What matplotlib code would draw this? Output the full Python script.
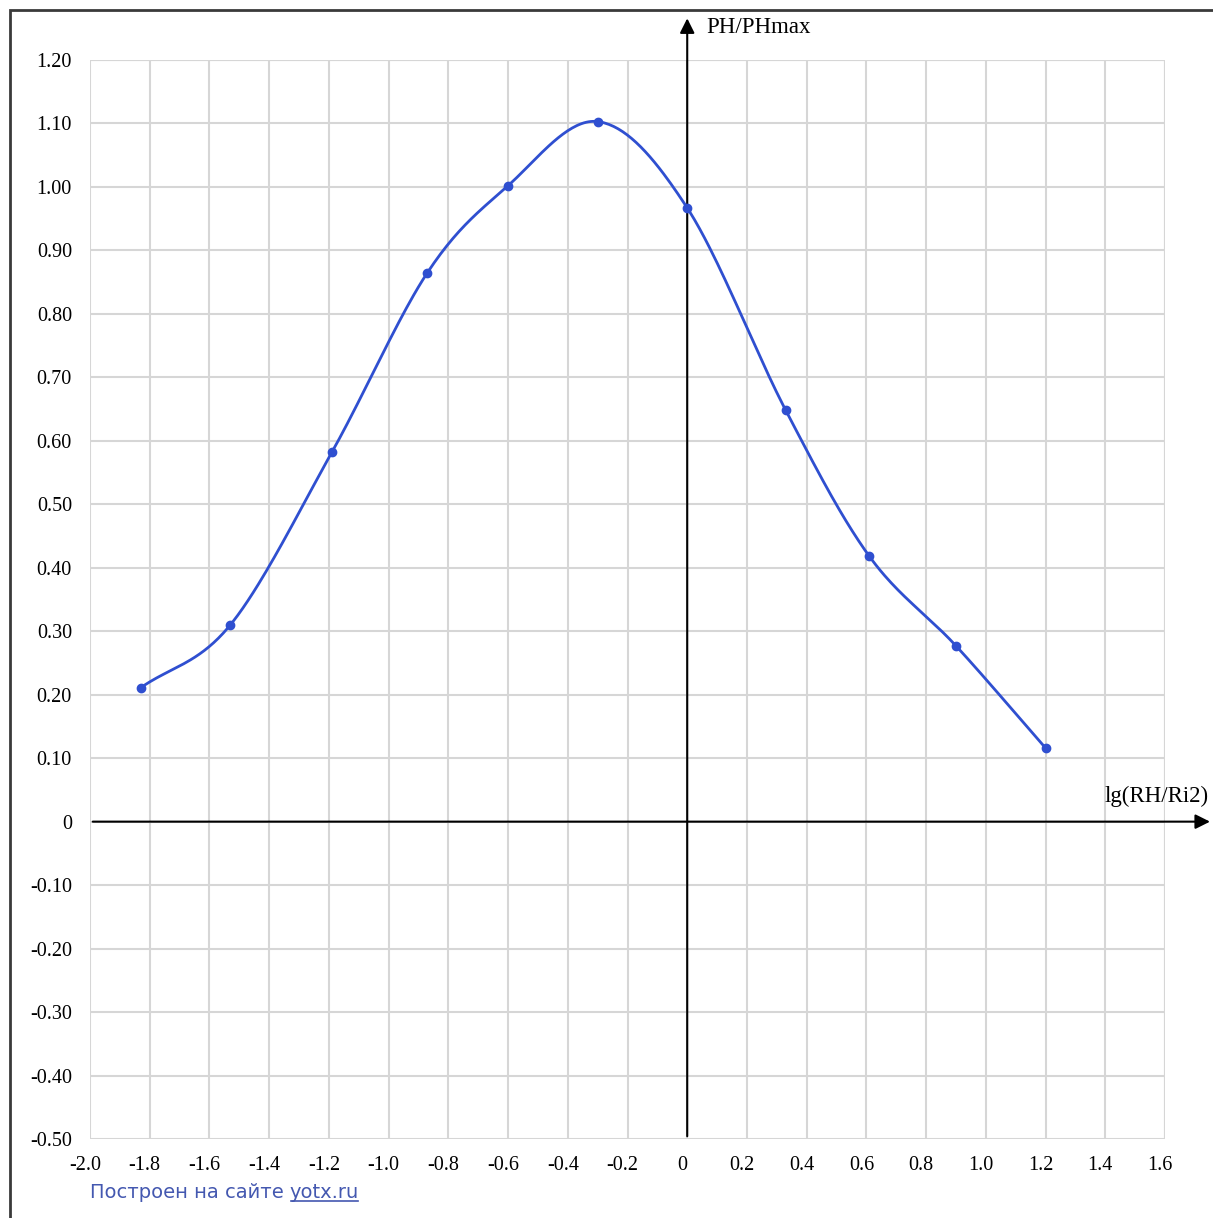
import numpy as np
import matplotlib
matplotlib.use("Agg")
import matplotlib.pyplot as plt
import matplotlib.transforms as mtrans

# values
lg_r = [-1.83, -1.53, -1.19, -0.87, -0.60, -0.30, 0.0, 0.33, 0.61, 0.90, 1.20]
p_ratio = [0.211, 0.310, 0.582, 0.865, 1.002, 1.103, 0.967, 0.648, 0.418, 0.277, 0.116]

x_ticks = [-2.0, -1.8, -1.6, -1.4, -1.2, -1.0, -0.8, -0.6, -0.4, -0.2, 0, 0.2, 0.4, 0.6, 0.8, 1.0, 1.2, 1.4, 1.6]
x_labels = ["-2.0", "-1.8", "-1.6", "-1.4", "-1.2", "-1.0", "-0.8", "-0.6", "-0.4", "-0.2", "0",
            "0.2", "0.4", "0.6", "0.8", "1.0", "1.2", "1.4", "1.6"]
y_ticks = [1.2, 1.1, 1.0, 0.9, 0.8, 0.7, 0.6, 0.5, 0.4, 0.3, 0.2, 0.1, 0, -0.1, -0.2, -0.3, -0.4, -0.5]
y_labels = ["1.20", "1.10", "1.00", "0.90", "0.80", "0.70", "0.60", "0.50", "0.40", "0.30", "0.20",
            "0.10", "0", "-0.10", "-0.20", "-0.30", "-0.40", "-0.50"]

BLUE = "#2f4fd0"
SERIF = "Liberation Serif"
GRID = "#d6d6d6"


def catmull(xs, ys, n=40):
    # smooth line through the points (rendering only, like the site does)
    xs = np.asarray(xs, float)
    ys = np.asarray(ys, float)
    px = np.concatenate([[2 * xs[0] - xs[1]], xs, [2 * xs[-1] - xs[-2]]])
    py = np.concatenate([[2 * ys[0] - ys[1]], ys, [2 * ys[-1] - ys[-2]]])
    t = np.linspace(0, 1, n)
    ox, oy = [], []
    for i in range(1, len(px) - 2):
        for p, o in ((px, ox), (py, oy)):
            p0, p1, p2, p3 = p[i - 1], p[i], p[i + 1], p[i + 2]
            o.extend(0.5 * (2 * p1 + (-p0 + p2) * t + (2 * p0 - 5 * p1 + 4 * p2 - p3) * t ** 2
                            + (-p0 + 3 * p1 - 3 * p2 + p3) * t ** 3))
    return np.array(ox), np.array(oy)


fig = plt.figure(figsize=(12.13, 12.18), dpi=100)
ax = fig.add_axes([90 / 1213, 1 - 1139 / 1218, 1075 / 1213, 1079 / 1218])

# outer frame
fig.patches.append(plt.Rectangle((10 / 1213, -0.01), 1.1, 1 - 10 / 1218 + 0.01,
                                 transform=fig.transFigure, fill=False, ec="#3a3a3a", lw=2))

ax.set_xlim(-2.0, 1.6)
ax.set_ylim(-0.5, 1.2)
ax.set_xticks(x_ticks)
ax.set_yticks(y_ticks)
ax.set_xticklabels(x_labels, family=SERIF, fontsize=14.5)
ax.set_yticklabels(y_labels, family=SERIF, fontsize=14.5)
ax.tick_params(length=0, pad=12)
ax.tick_params(axis="y", pad=13)
shift = mtrans.ScaledTranslation(-5 / 100, 0, fig.dpi_scale_trans)
for lab in ax.get_xticklabels():
    lab.set_transform(lab.get_transform() + shift)
ax.grid(True, color=GRID, lw=1.5)
ax.set_axisbelow(True)
for s in ax.spines.values():
    s.set_visible(False)
# closing grid lines at the edges
ax.axvline(1.6, color=GRID, lw=1.5, zorder=0)
ax.axhline(1.2, color=GRID, lw=1.5, zorder=0)

# axes with arrows
ax.annotate("", xy=(1.76, 0), xytext=(-2.0, 0), annotation_clip=False,
            arrowprops=dict(arrowstyle="-|>", color="black", lw=1.5, mutation_scale=22))
ax.annotate("", xy=(0, 1.27), xytext=(0, -0.5), annotation_clip=False,
            arrowprops=dict(arrowstyle="-|>", color="black", lw=1.5, mutation_scale=22))
ax.text(0.065, 1.251, "PH/PHmax", family=SERIF, fontsize=16.5, va="center", ha="left", clip_on=False)
ax.text(1.745, 0.04, "lg(RH/Ri2)", family=SERIF, fontsize=16.5, va="center", ha="right", clip_on=False)

sx, sy = catmull(lg_r, p_ratio)
ax.plot(sx, sy, color=BLUE, lw=2, zorder=3, solid_capstyle="round")
ax.plot(lg_r, p_ratio, "o", color=BLUE, ms=6, zorder=4)

# footer
t1 = fig.text(90 / 1213, 1 - 1192 / 1218, "Построен на сайте", family="DejaVu Sans",
              fontsize=14, color="#4458b0", va="center", ha="left")
fig.canvas.draw()
bb = t1.get_window_extent()
x2 = (bb.x1 + 6) / fig.bbox.width
t2 = fig.text(x2, 1 - 1192 / 1218, "yotx.ru", family="DejaVu Sans",
              fontsize=14, color="#4458b0", va="center", ha="left")
fig.canvas.draw()
bb2 = t2.get_window_extent()
yline = (bb2.y0 + 1) / fig.bbox.height
fig.add_artist(plt.Line2D([(bb2.x0 + 1) / fig.bbox.width, (bb2.x1 - 1) / fig.bbox.width], [yline, yline],
                          transform=fig.transFigure, color="#4458b0", lw=1.2))

fig.savefig("out.png", dpi=100)
